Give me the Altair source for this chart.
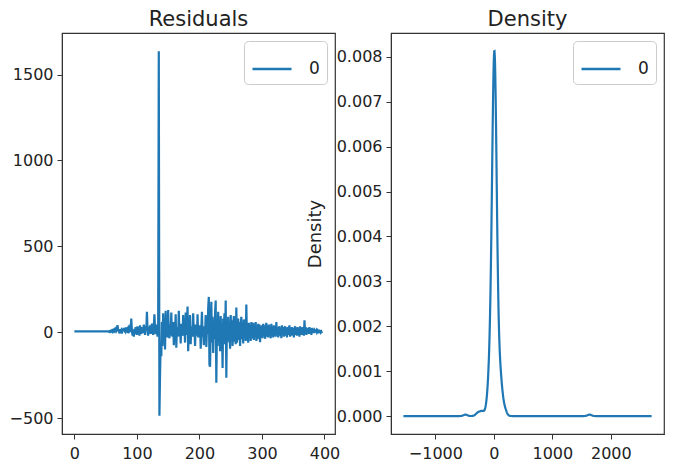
import altair as alt
import pandas as pd
import numpy as np

# Residual series (index 0..396)
seg_flat = [5, 5, 5, 5, 5, 5, 5, 5, 5, 5, 5, 5, 5, 5, 5, 5, 5, 5, 5, 5,
            5, 5, 5, 5, 5, 5, 5, 5, 5, 5, 5, 5, 5, 5, 5, 5, 5, 5, 5, 5,
            5, 5, 5, 5, 5, 5, 5, 5, 5, 5, 5, 5, 5, 5, 5]
seg_small = [3, 6, 2, 8, 5, 10, 4, 12, 6, 15, 8, 18, 10, 22, 42, 12, 5, 18, -5, 10,
             15, -8, 20, 6, 25, 10, 4, 28, 12, 18, -4, 22, 30, 8, 15, 10]
seg_pre = [80, 10, -20, 15, -25, 20, -10, 30, 5, -15, 35, 0, 25, -20, 40, 10, -10, 30, 15, -5,
           45, 20, -15, 35, 10, 120, 15, -20, 30, 5, 40, -10, 25, 50, 10, -15, 35, 105, 20, -10,
           45, 15, -25, 30]
seg_spike = [1636, -486, -245, -60, -140, 60]
seg_mid = [-80, 110, -20, 40, -100, 125, -10, 30, -30, 130, 5, -35, 45, -15, 115, -25, 20, 60, -75, 25,
           -5, 105, -90, 30, 10, -25, 125, -15, 40, -65, 50, 0, -20, 100, -10, 35, -60, 115, -15, 45,
           150, -110, 25, -20, 100, -70, 35, 5, -25, 110, -10, 30, -80, 45, 15, -20, 105, -30, 35, -15,
           40, -95, 20, 120, -25, 10, -75, 35, -15, 100, -85, 25, -10, 140, 206]
seg_wide = [-189, -200, 40, 177, -60, 90, -120, 60, -40, 110, 185, -294, 30, -80, 120, -30, 70, -110, 95, -50,
            40, -208, 80, -20, 110, -70, 185, -265, 50, -60, 90, -40, 60, -96, 100, -30, 70, -80, 40, 95,
            -55, 30, -70, 144, -60, 20, 80, -45, 60, -80, 35, 90, -40, 50, -65, 75, -30, 40, -50, 162,
            -45, 30, -60, 55, -20, 45, -50, 60, -35, 20, 55, -45, 40, -25, 60, -50, 30, -40, 50, -30,
            45, -58, 35, -20, 40]
seg_late = [-35, 50, -20, 40, -38, 30, 55, -25, 35, -30, 45, -15, 20, -35, 50, -10, 30, -30, 40, -20,
            25, -25, 59, -15, 30, -30, 20, 35, -20, 25, -35, 40, -10, 30, -25, 15, 35, -20, 25, -30,
            30, -15, 20, 40, -25, 15, -20, 30, -10, 25, -30, 20, 35, -15, 25, -20, 30, -5, 20, -25,
            35, -10, 25, -15, 30, 10, -20, 70, -10, 30, -15, 20, 5, 25, -10, 30, 0, 15, -15, 25,
            5, 20, -5, 15]
seg_end = [10, 5, 12, 0, 8, -5, 15, 3, 6, -2, 4, -5]

resid = seg_flat + seg_small + seg_pre + seg_spike + seg_mid + seg_wide + seg_late + seg_end
idx = list(range(len(resid)))
df = pd.DataFrame({"idx": idx, "resid": resid, "series": ["0"] * len(resid)})

# KDE settings like pandas' plot.kde (Scott bandwidth, extent min-0.5r .. max+0.5r)
arr = np.array(resid, dtype=float)
bw = float(arr.std(ddof=1) * len(arr) ** -0.2)
rng = arr.max() - arr.min()
ext = [float(arr.min() - 0.5 * rng), float(arr.max() + 0.5 * rng)]

BLUE = "#1f77b4"
FONT = "DejaVu Sans"
W, H = 273, 401

legend = alt.Legend(
    title=None, orient="top-right", offset=8, padding=7,
    strokeColor="#cccccc", fillColor="white", cornerRadius=4,
    symbolType="stroke", symbolSize=1521, symbolStrokeWidth=2.5,
    labelFontSize=17, labelOffset=16, labelFont=FONT, labelColor="#222",
)
color = alt.Color("series:N", scale=alt.Scale(range=[BLUE]), legend=legend)

left = alt.Chart(df).mark_line(strokeWidth=2.2, clip=True).encode(
    x=alt.X("idx:Q", title=None,
            scale=alt.Scale(domain=[-19.8, 416.8], nice=False, zero=False),
            axis=alt.Axis(values=[0, 100, 200, 300, 400], format="d")),
    y=alt.Y("resid:Q", title=None,
            scale=alt.Scale(domain=[-592, 1742], nice=False, zero=False),
            axis=alt.Axis(values=[-500, 0, 500, 1000, 1500], format="d")),
    color=color,
).properties(width=W, height=H, title="Residuals")

right = alt.Chart(df).transform_density(
    "resid", as_=["value", "density"], bandwidth=bw, extent=ext, steps=1000
).transform_calculate(series="'0'").mark_line(strokeWidth=2.2, clip=True).encode(
    x=alt.X("value:Q", title=None,
            scale=alt.Scale(domain=[-1759, 2909], nice=False, zero=False),
            axis=alt.Axis(values=[-1000, 0, 1000, 2000], format="d")),
    y=alt.Y("density:Q", title="Density",
            scale=alt.Scale(domain=[-0.0004, 0.00853], nice=False, zero=False),
            axis=alt.Axis(values=[0, 0.001, 0.002, 0.003, 0.004, 0.005, 0.006, 0.007, 0.008],
                          format=".3f", titlePadding=12)),
    color=color,
).properties(width=W, height=H, title="Density")

chart = alt.hconcat(left, right, spacing=56, bounds="flush").resolve_legend(
    color="independent"
).properties(padding={"left": 0, "top": 0, "right": 0, "bottom": 0}).configure_axis(
    labelFont=FONT, labelFontSize=16, labelColor="#222",
    titleFont=FONT, titleFontSize=18, titleFontWeight="normal", titleColor="#222",
    tickColor="#333", domainColor="#333", tickSize=5, labelPadding=6,
    grid=False,
).configure_axisY(labelPadding=4).configure_title(
    font=FONT, fontSize=21, fontWeight="normal", color="#222", offset=3
).configure_view(stroke="#333", strokeWidth=1.2)

chart.save("out.html", embed_options={"renderer": "svg", "actions": False})
